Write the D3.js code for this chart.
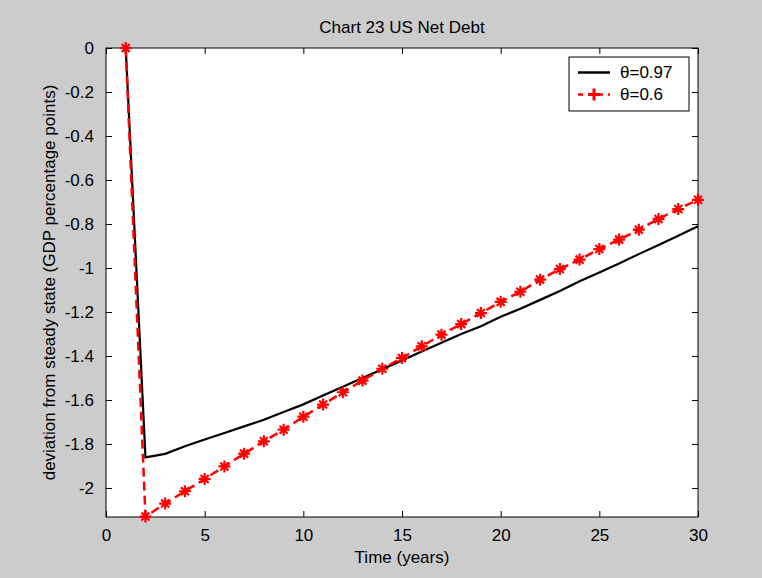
<!DOCTYPE html>
<meta charset="utf-8">
<style>
body { margin: 0; background: #cccccc; }
text { font-family: "Liberation Sans", Arial, sans-serif; fill: #000; }
</style>
<svg width="762" height="578"></svg>
<script src="https://cdnjs.cloudflare.com/ajax/libs/d3/7.8.5/d3.min.js"></script>
<script>

var years = [1, 2, 3, 4, 5, 6, 7, 8, 9, 10, 11, 12, 13, 14, 15,
             16, 17, 18, 19, 20, 21, 22, 23, 24, 25, 26, 27, 28, 29, 30];

// theta = 0.97 (solid black)
var theta097 = [0, -1.861, -1.845, -1.81, -1.78, -1.75, -1.72, -1.69, -1.655, -1.62,
                -1.58, -1.54, -1.50, -1.46, -1.42, -1.38, -1.34, -1.30, -1.265, -1.222,
                -1.185, -1.145, -1.105, -1.06, -1.02, -0.98, -0.937, -0.895, -0.853, -0.81];

// theta = 0.6 (red dashed with markers)
var theta06 = [0, -2.130, -2.071, -2.015, -1.959, -1.902, -1.844, -1.788, -1.735, -1.676,
               -1.621, -1.565, -1.512, -1.458, -1.409, -1.356, -1.303, -1.255, -1.205, -1.154,
               -1.108, -1.053, -1.005, -0.962, -0.914, -0.871, -0.826, -0.777, -0.732, -0.690];

var seriesNames = ["\u03b8=0.97", "\u03b8=0.6"];
var xTicks = [0, 5, 10, 15, 20, 25, 30];
var yTicks = [0, -0.2, -0.4, -0.6, -0.8, -1, -1.2, -1.4, -1.6, -1.8, -2];
var yMin = -2.132;

var svg = d3.select("svg"),
    margin = {top: 48, right: 64, bottom: 61, left: 106},
    width = +svg.attr("width") - margin.left - margin.right,
    height = +svg.attr("height") - margin.top - margin.bottom,
    g = svg.append("g").attr("transform", "translate(" + margin.left + "," + margin.top + ")");

var x = d3.scaleLinear().domain([0, 30]).range([0, width]);
var y = d3.scaleLinear().domain([yMin, 0]).range([height, 0]);

g.append("rect")
    .attr("width", width)
    .attr("height", height)
    .attr("fill", "#fff");

var fmt = function(d) { return d === 0 ? "0" : String(+d.toFixed(1)); };

// axes with inward ticks (box on)
var tickLen = 6;
g.append("g")
    .attr("transform", "translate(0," + height + ")")
    .call(d3.axisBottom(x).tickValues(xTicks).tickSizeInner(-tickLen).tickSizeOuter(0).tickPadding(12))
    .call(function(a) { a.select(".domain").remove(); });
g.append("g")
    .call(d3.axisTop(x).tickValues(xTicks).tickSizeInner(-tickLen).tickSizeOuter(0).tickFormat(""))
    .call(function(a) { a.select(".domain").remove(); });
g.append("g")
    .call(d3.axisLeft(y).tickValues(yTicks).tickSizeInner(-tickLen).tickSizeOuter(0).tickPadding(12).tickFormat(fmt))
    .call(function(a) { a.select(".domain").remove(); });
g.append("g")
    .attr("transform", "translate(" + width + ",0)")
    .call(d3.axisRight(y).tickValues(yTicks).tickSizeInner(-tickLen).tickSizeOuter(0).tickFormat(""))
    .call(function(a) { a.select(".domain").remove(); });

g.selectAll(".tick line").attr("stroke", "#000");
g.selectAll(".tick text")
    .attr("font-size", 17)
    .attr("font-family", "Liberation Sans, Arial, sans-serif");

g.append("rect")
    .attr("width", width)
    .attr("height", height)
    .attr("fill", "none")
    .attr("stroke", "#000")
    .attr("stroke-width", 1);

var line = d3.line()
    .x(function(d) { return x(d[0]); })
    .y(function(d) { return y(d[1]); });

var black = years.map(function(t, i) { return [t, theta097[i]]; });
var red = years.map(function(t, i) { return [t, theta06[i]]; });

g.append("path")
    .datum(black)
    .attr("fill", "none")
    .attr("stroke", "#000")
    .attr("stroke-width", 2.2)
    .attr("d", line);

g.append("path")
    .datum(red)
    .attr("fill", "none")
    .attr("stroke", "#ff0000")
    .attr("stroke-width", 2.5)
    .attr("stroke-dasharray", "9,5")
    .attr("d", line);

// asterisk-like marker
var star = "M-6,0L6,0M0,-6L0,6M-4,-4L4,4M-4,4L4,-4";

g.selectAll(".mark")
    .data(red)
    .enter().append("path")
      .attr("class", "mark")
      .attr("transform", function(d) { return "translate(" + x(d[0]) + "," + y(d[1]) + ")"; })
      .attr("d", star)
      .attr("fill", "none")
      .attr("stroke", "#ff0000")
      .attr("stroke-width", 2.2);

// title and axis labels
svg.append("text")
    .attr("x", margin.left + width / 2)
    .attr("y", 33)
    .attr("text-anchor", "middle")
    .attr("font-size", 17)
    .text("Chart 23 US Net Debt");

svg.append("text")
    .attr("x", margin.left + width / 2)
    .attr("y", 563)
    .attr("text-anchor", "middle")
    .attr("font-size", 17)
    .text("Time (years)");

svg.append("text")
    .attr("transform", "translate(55," + (margin.top + height / 2) + ") rotate(-90)")
    .attr("text-anchor", "middle")
    .attr("font-size", 17)
    .text("deviation from steady state (GDP percentage points)");

// legend
var legend = svg.append("g").attr("transform", "translate(569,57)");
legend.append("rect")
    .attr("width", 120)
    .attr("height", 54)
    .attr("fill", "#fff")
    .attr("stroke", "#000");

legend.append("line")
    .attr("x1", 9).attr("x2", 41).attr("y1", 15.5).attr("y2", 15.5)
    .attr("stroke", "#000").attr("stroke-width", 2.5);
legend.append("line")
    .attr("x1", 9).attr("x2", 41).attr("y1", 37.5).attr("y2", 37.5)
    .attr("stroke", "#ff0000").attr("stroke-width", 2.5).attr("stroke-dasharray", "5,5");
legend.append("path")
    .attr("transform", "translate(25,37.5)")
    .attr("d", "M-6,0L6,0M0,-6L0,6")
    .attr("fill", "none")
    .attr("stroke", "#ff0000")
    .attr("stroke-width", 3);

legend.selectAll(".lab")
    .data(seriesNames)
    .enter().append("text")
      .attr("class", "lab")
      .attr("x", 51)
      .attr("y", function(d, i) { return 15.5 + i * 22; })
      .attr("dy", "0.35em")
      .attr("font-size", 17)
      .text(function(d) { return d; });

</script>
